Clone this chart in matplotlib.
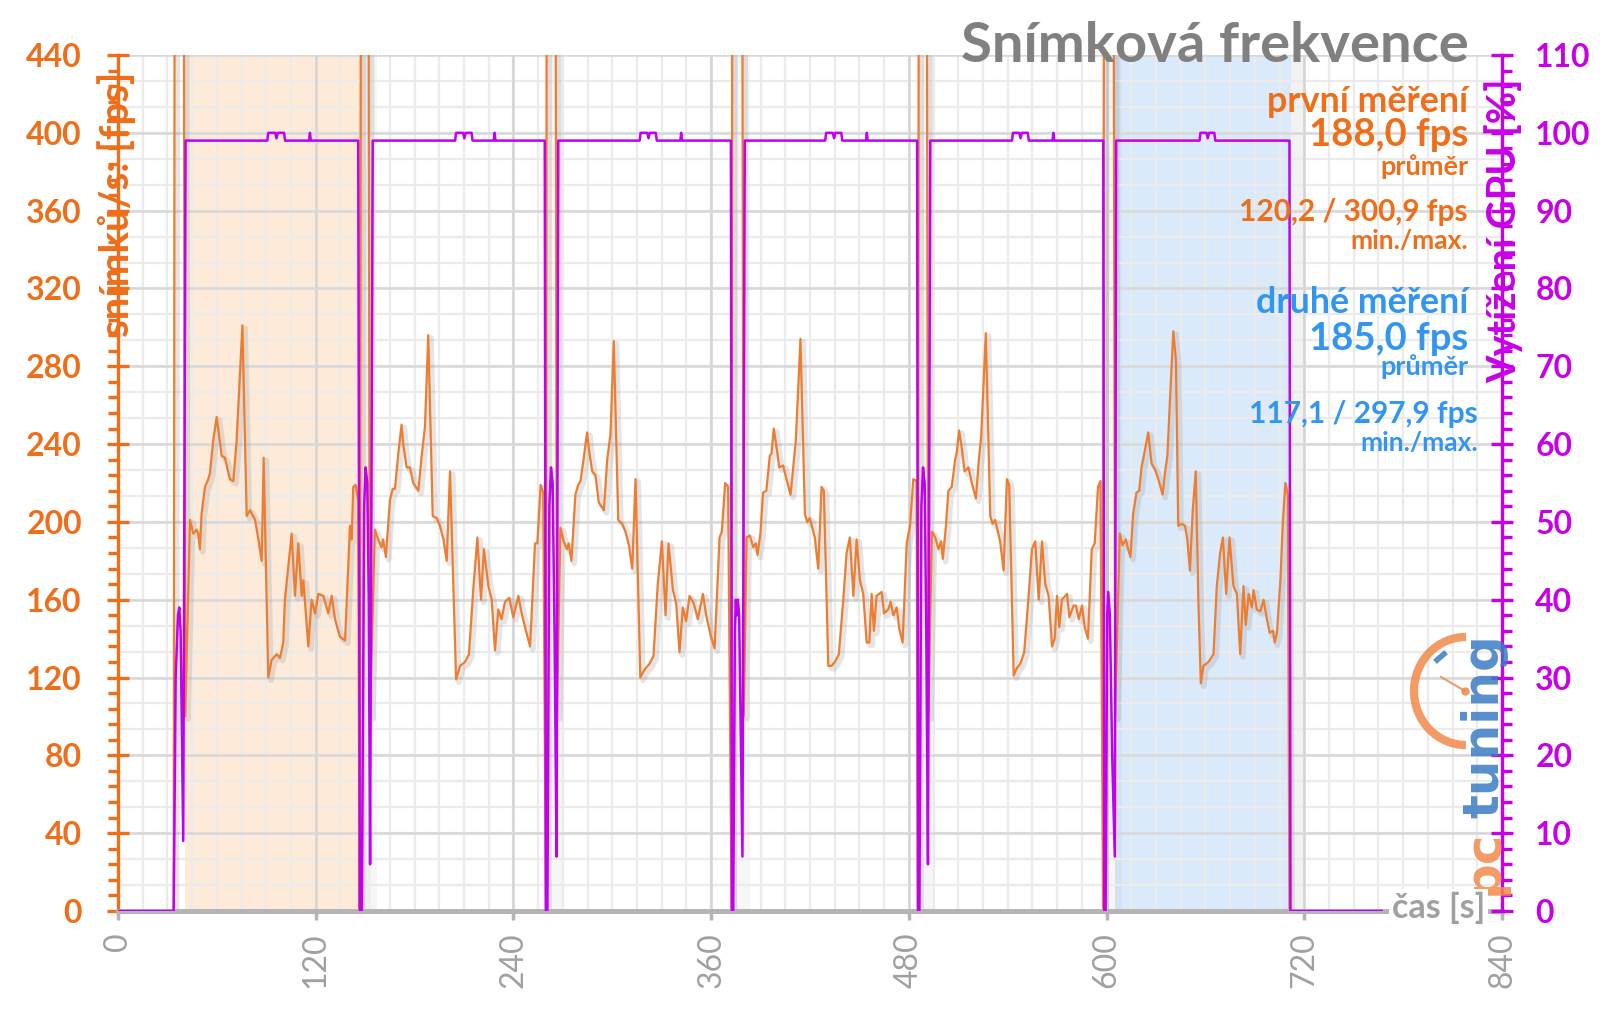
import numpy as np
import matplotlib
matplotlib.use("Agg")
import matplotlib.pyplot as plt
import matplotlib.patheffects as pe
from matplotlib.ticker import MultipleLocator
from matplotlib.patches import Arc

plt.rcParams['font.family'] = ['Lato', 'DejaVu Sans']
plt.rcParams['font.weight'] = 'bold'

# ---------------- data ----------------
x_ticks = [0, 120, 240, 360, 480, 600, 720, 840]
fps_ticks = [0, 40, 80, 120, 160, 200, 240, 280, 320, 360, 400, 440]
gpu_ticks = [0, 10, 20, 30, 40, 50, 60, 70, 80, 90, 100, 110]

# loading gaps between runs (fps goes off-scale during loading)
gap0_t = [33.8, 34.6, 39.4, 40.8]
gap0_fps = [0, 700, 700, 100]
gap1_t = [146.6, 147.8, 151.6, 152.9]
gap1_fps = [0, 700, 700, 100]
gap2_t = [259.7, 260.4, 265.2, 266.4]
gap2_fps = [0, 700, 700, 100]
gap3_t = [372.4, 373.0, 378.4, 379.8]
gap3_fps = [0, 700, 700, 100]
gap4_t = [485.5, 486.2, 490.4, 491.8]
gap4_fps = [0, 700, 700, 100]
gap5_t = [597.9, 598.6, 603.8, 605.2]
gap5_fps = [0, 700, 700, 100]
end_t = [711.0]
end_fps = [0]

run1_t = [43.7, 45.7, 47.7, 48.7, 49.7, 50.7, 52.8, 54.8, 55.8, 57.8,
          59.9, 62.9, 64.9, 67.9, 70.0, 72.0, 75.5, 78.1, 80.1, 83.2,
          85.2, 87.2, 88.4, 91.2, 93.2, 96.3, 98.3, 100.3, 101.3, 105.4,
          107.4, 109.4, 111.5, 112.5, 115.5, 117.5, 119.6, 121.6, 124.6, 127.6,
          129.7, 131.7, 134.7, 137.8, 140.8, 141.8, 142.8, 144.2, 145.8]
run1_fps = [201, 194, 196, 194, 186, 204, 218, 222, 225, 242,
            254, 234, 233, 222, 221, 242, 301, 203, 206, 201,
            191, 180, 233, 120, 129, 132, 130, 138, 160, 194,
            162, 189, 162, 170, 136, 160, 153, 163, 162, 153,
            162, 150, 141, 139, 198, 191, 218, 219, 211]

run2_t = [155.9, 157.9, 159.9, 160.9, 162.6, 165.0, 166.7, 168.1, 170.1, 172.1,
          173.1, 175.2, 177.2, 179.2, 182.3, 184.3, 186.3, 188.3, 191.0, 193.4,
          195.4, 197.5, 199.5, 201.5, 205.2, 207.6, 210.6, 213.0, 215.6, 218.1,
          220.3, 222.1, 224.8, 226.8, 228.8, 230.8, 232.8, 234.9, 237.5, 239.9,
          243.0, 245.0, 247.6, 250.1, 253.1, 254.5, 256.5, 258.1]
run2_fps = [196, 191, 187, 191, 182, 211, 217, 217, 235, 250,
            240, 228, 228, 220, 216, 234, 249, 296, 203, 202,
            198, 191, 180, 226, 119, 126, 128, 132, 165, 192,
            160, 186, 167, 160, 134, 155, 150, 159, 161, 151,
            162, 153, 144, 136, 189, 189, 219, 215]

run3_t = [268.5, 270.5, 272.5, 273.5, 275.2, 277.6, 279.3, 280.7, 282.7, 284.7,
          285.7, 287.8, 289.8, 291.8, 294.9, 296.9, 298.9, 300.9, 303.6, 306.0,
          308.0, 310.1, 312.1, 314.1, 317.0, 319.5, 322.5, 325.0, 327.6, 330.1,
          332.3, 334.1, 336.8, 338.8, 340.8, 342.8, 344.8, 346.9, 349.5, 351.9,
          355.0, 357.0, 359.6, 362.1, 365.1, 366.5, 368.5, 370.3]
run3_fps = [197, 190, 186, 189, 180, 214, 219, 221, 233, 246,
            238, 226, 224, 210, 206, 232, 245, 293, 201, 199,
            195, 188, 176, 222, 120, 124, 127, 131, 168, 190,
            152, 189, 165, 158, 133, 156, 149, 162, 158, 150,
            163, 152, 142, 135, 192, 195, 220, 218]

run4_t = [381.5, 383.5, 385.5, 387.1, 388.1, 389.9, 391.5, 393.5, 395.6, 396.6,
          398.0, 399.6, 401.3, 403.7, 405.7, 408.2, 409.8, 411.4, 414.2, 416.9,
          418.3, 419.9, 422.9, 425.0, 427.0, 428.4, 431.1, 433.1, 435.1, 437.5,
          440.2, 442.2, 444.2, 446.3, 448.3, 450.3, 452.3, 454.4, 456.0, 457.4,
          458.8, 460.4, 463.5, 464.9, 467.5, 468.9, 470.6, 472.6, 474.2, 476.2,
          478.7, 480.7, 482.7, 484.7]
run4_fps = [192, 193, 187, 189, 183, 194, 215, 216, 234, 235,
            248, 239, 228, 229, 222, 214, 228, 242, 294, 204,
            200, 202, 192, 176, 218, 216, 126, 126, 128, 132,
            160, 184, 192, 162, 191, 170, 163, 138, 138, 163,
            144, 162, 164, 153, 155, 159, 152, 156, 145, 138,
            189, 198, 222, 221]

run5_t = [494.0, 496.0, 498.0, 499.6, 500.6, 502.4, 504.0, 506.0, 508.1, 509.1,
          510.5, 512.1, 513.8, 516.2, 518.2, 520.7, 522.3, 523.9, 526.7, 529.4,
          530.8, 532.4, 535.4, 537.5, 539.5, 540.9, 543.6, 545.6, 547.6, 550.0,
          552.7, 554.7, 556.7, 558.8, 560.8, 562.8, 564.8, 566.9, 568.5, 569.9,
          571.3, 572.9, 576.0, 577.4, 580.0, 581.4, 583.1, 585.1, 586.7, 588.7,
          591.0, 592.8, 594.8, 596.3]
run5_fps = [195, 192, 186, 190, 181, 197, 216, 218, 232, 236,
            247, 238, 226, 228, 220, 212, 230, 244, 297, 203,
            199, 201, 190, 175, 222, 219, 121, 125, 127, 133,
            162, 186, 190, 160, 190, 168, 162, 136, 140, 162,
            146, 160, 163, 151, 157, 157, 150, 157, 146, 140,
            186, 189, 218, 221]

run6_t = [608.0, 609.7, 611.7, 613.1, 614.5, 616.1, 618.1, 619.8, 621.2, 622.6,
          625.3, 627.3, 629.4, 631.4, 634.0, 635.4, 636.9, 638.5, 640.5, 642.1,
          643.5, 645.5, 647.6, 649.0, 650.6, 652.3, 654.1, 655.7, 657.2, 658.8,
          661.8, 664.9, 666.9, 668.9, 670.6, 672.6, 674.6, 677.0, 679.1, 681.1,
          683.1, 684.5, 686.2, 688.2, 689.2, 691.2, 693.3, 695.3, 697.3, 699.0,
          701.0, 702.0, 703.4, 705.5, 707.0, 708.5, 710.0]
run6_fps = [194, 188, 191, 186, 182, 204, 215, 216, 228, 234,
            246, 230, 227, 222, 214, 225, 234, 263, 298, 283,
            198, 199, 198, 191, 175, 206, 226, 160, 117, 126,
            128, 132, 167, 184, 192, 163, 192, 167, 163, 132,
            167, 147, 163, 156, 165, 155, 154, 160, 150, 143,
            144, 138, 143, 170, 200, 220, 214]

gpu_t = [0, 33.8, 35.0, 36.4, 37.2, 38.0, 39.6, 41.0,
         90.6, 91.2, 95.4, 96.2, 97.0, 100.8, 101.4, 116.0, 116.5, 117.0, 145.8, 146.8,
         148.0, 149.4, 150.3, 151.3, 152.2, 153.0, 154.6,
         204.6, 205.2, 209.4, 210.2, 211.0, 214.6, 215.2, 228.1, 228.6, 229.1, 259.0, 259.7,
         260.6, 261.8, 262.8, 263.8, 265.0, 266.2, 267.2,
         316.6, 317.2, 321.2, 322.0, 322.8, 326.4, 327.0, 341.3, 341.8, 342.3, 372.0, 372.6,
         373.4, 374.4, 375.0, 375.6, 376.2, 377.0, 379.0, 380.4,
         429.2, 429.8, 433.8, 434.6, 435.4, 439.0, 439.6, 454.0, 454.5, 455.0, 485.0, 485.6,
         486.4, 487.6, 488.6, 489.6, 490.6, 491.6, 493.0,
         542.6, 543.2, 547.0, 547.8, 548.6, 552.2, 552.8, 567.2, 567.7, 568.2, 598.0, 598.6,
         599.4, 600.4, 601.0, 602.0, 603.4, 605.0, 605.8,
         656.4, 657.0, 660.6, 661.4, 662.2, 665.4, 666.0, 711.0, 711.6, 767.0]
gpu_v = [0, 0, 30, 38, 39, 36, 9, 99,
         99, 100, 100, 99.3, 100, 100, 99, 99, 100, 99, 99, 0,
         0, 52, 57, 55, 40, 6, 99,
         99, 100, 100, 99.3, 100, 100, 99, 99, 100, 99, 99, 0,
         0, 52, 57, 55, 35, 7, 99,
         99, 100, 100, 99.3, 100, 100, 99, 99, 100, 99, 99, 0,
         0, 36, 40, 38, 40, 38, 7, 99,
         99, 100, 100, 99.3, 100, 100, 99, 99, 100, 99, 99, 0,
         0, 52, 57, 55, 35, 6, 99,
         99, 100, 100, 99.3, 100, 100, 99, 99, 100, 99, 99, 0,
         0, 38, 41, 38, 20, 7, 99,
         99, 100, 100, 99.3, 100, 100, 99, 99, 0, 0]

first_span = (40.5, 148.5)
second_span = (605.0, 712.0)

# ---------------- style ----------------
ORANGE = '#ED7D31'
ORANGE_TXT = '#EE6E1A'
MAGENTA = '#C000F0'
MAGENTA_TXT = '#C800E8'
BLUE_TXT = '#3296F0'
GRAY_TXT = '#A0A0A0'
W, H = 1600, 1009

fig = plt.figure(figsize=(16, 10.09), dpi=100)
fig.patch.set_facecolor('white')
ax = fig.add_axes([118 / W, 1 - 911 / H, (1502 - 118) / W, (911 - 55) / H])
ax.set_facecolor('white')
ax.set_xlim(0, 840)
ax.set_ylim(0, 440)

# grid (minor then major)
for gx in np.arange(0, 841, 15):
    ax.axvline(gx, color='#EBEBEB', lw=1.6, zorder=0.4)
for gy in np.arange(0, 441, 40 / 3):
    ax.axhline(gy, color='#EBEBEB', lw=1.6, zorder=0.4)
for gx in x_ticks:
    ax.axvline(gx, color='#D4D4D4', lw=1.8, zorder=0.45)
for gy in fps_ticks:
    ax.axhline(gy, color='#D8D8D8', lw=1.8, zorder=0.45)

# shaded measurement windows
ax.axvspan(*first_span, color='#FDE8D4', alpha=0.9, lw=0, zorder=0.3)
ax.axvspan(*second_span, color='#D8E8FA', alpha=0.9, lw=0, zorder=0.3)
ax.axvspan(second_span[1], second_span[1] + 7, color='#000000', alpha=0.05, lw=0, zorder=0.3)
ax.axvspan(first_span[1], first_span[1] + 5, color='#000000', alpha=0.03, lw=0, zorder=0.3)
for g in (gap1_t, gap2_t, gap3_t, gap4_t, gap5_t):
    ax.axvspan(g[0] - 1, g[-1] + 4, color='#000000', alpha=0.035, lw=0, zorder=0.3)

fps_t = np.concatenate([gap0_t, run1_t, gap1_t, run2_t, gap2_t, run3_t, gap3_t,
                        run4_t, gap4_t, run5_t, gap5_t, run6_t, end_t])
fps_v = np.concatenate([gap0_fps, run1_fps, gap1_fps, run2_fps, gap2_fps, run3_fps, gap3_fps,
                        run4_fps, gap4_fps, run5_fps, gap5_fps, run6_fps, end_fps])
ax.plot(fps_t, fps_v, color=ORANGE, lw=1.6, zorder=3,
        path_effects=[pe.SimpleLineShadow(offset=(2, -2), shadow_color='#999999', alpha=0.25, linewidth=4),
                      pe.Normal()])

# axes styling
for s in ('top', 'right'):
    ax.spines[s].set_visible(False)
ax.spines['left'].set_color(ORANGE_TXT)
ax.spines['left'].set_linewidth(2.4)
ax.spines['bottom'].set_color('#B4B4B4')
ax.spines['bottom'].set_linewidth(3.6)
ax.spines['bottom'].set_zorder(4)

ax.set_xticks(x_ticks)
ax.set_xticklabels([str(v) for v in x_ticks], rotation=90, color=GRAY_TXT,
                   fontsize=23, fontweight='normal')
ax.tick_params(axis='x', direction='out', length=6.5, width=2.5, color='#B4B4B4', pad=9)

ax.set_yticks(fps_ticks)
ax.set_yticklabels([str(v) for v in fps_ticks])
ax.yaxis.set_minor_locator(MultipleLocator(8))
ax.tick_params(axis='y', which='major', direction='inout', length=16, width=2.4,
               color=ORANGE_TXT, labelcolor=ORANGE_TXT, labelsize=23, pad=18)
ax.tick_params(axis='y', which='minor', direction='out', length=7, width=2.4, color=ORANGE_TXT)

ax2 = ax.twinx()
ax2.set_ylim(0, 110)
ax2.plot(gpu_t, gpu_v, color=MAGENTA, lw=1.8, zorder=3)
for s in ('top', 'left', 'bottom'):
    ax2.spines[s].set_visible(False)
ax2.spines['right'].set_color(MAGENTA_TXT)
ax2.spines['right'].set_linewidth(2.4)
ax2.set_yticks(gpu_ticks)
ax2.set_yticklabels([str(v) for v in gpu_ticks])
ax2.yaxis.set_minor_locator(MultipleLocator(2))
ax2.tick_params(axis='y', which='major', direction='inout', length=16, width=2.4,
                color=MAGENTA_TXT, labelcolor=MAGENTA_TXT, labelsize=23, pad=16)
ax2.tick_params(axis='y', which='minor', direction='out', length=7, width=2.4, color=MAGENTA_TXT)


def fx(px):
    return px / W


def fy(py):
    return 1 - py / H


# axis titles
fig.text(fx(129), fy(72), 'snímků/s: [fps]', rotation=90, rotation_mode='anchor',
         ha='right', va='baseline', color=ORANGE_TXT, fontsize=29, fontweight='bold', zorder=10)
fig.text(fx(1516), fy(78), 'Vytížení GPU [%]', rotation=90, rotation_mode='anchor',
         ha='right', va='baseline', color=MAGENTA_TXT, fontsize=28.5, fontweight='bold', zorder=10)
fig.text(fx(1485), fy(908), 'čas [s]', ha='right', va='center', color=GRAY_TXT,
         fontsize=24.5, fontweight='bold', zorder=10,
         bbox=dict(facecolor='white', edgecolor='none', pad=2))

# title and annotations
fig.text(fx(1469), fy(46), 'Snímková frekvence', ha='right', va='center',
         color='#808080', fontsize=40.5, fontweight='bold')
ann = [
    ('první měření', 101, 25.8, ORANGE_TXT, 1468),
    ('188,0 fps', 135, 27.5, ORANGE_TXT, 1468),
    ('průměr', 167, 19.5, ORANGE_TXT, 1468),
    ('120,2 / 300,9 fps', 212, 21.5, ORANGE_TXT, 1468),
    ('min./max.', 241, 19, ORANGE_TXT, 1468),
    ('druhé měření', 302, 25.8, BLUE_TXT, 1468),
    ('185,0 fps', 339, 27.5, BLUE_TXT, 1468),
    ('průměr', 367, 19.5, BLUE_TXT, 1468),
    ('117,1 / 297,9 fps', 414, 21.5, BLUE_TXT, 1478),
    ('min./max.', 443, 19, BLUE_TXT, 1478),
]
for txt, py, size, col, px in ann:
    fig.text(fx(px), fy(py), txt, ha='right', va='center', color=col,
             fontsize=size, fontweight='bold', zorder=10)

# logo watermark
ov = fig.add_axes([0, 0, 1, 1], facecolor='none')
ov.set_xlim(0, W)
ov.set_ylim(H, 0)
ov.axis('off')
ov.add_patch(Arc((1466, 691), 104, 108, theta1=90, theta2=270, lw=6, color='#F28A4C', alpha=0.85))
ov.plot([1441, 1465], [677, 691], color='#F28A4C', lw=1.5, alpha=0.85)
ov.plot([1465], [691], 'o', color='#F28A4C', ms=5, alpha=0.85)
ov.plot([1437, 1444], [660, 654], color='#3A7CC4', lw=4, alpha=0.85)
ov.text(1498, 818, 'tuning', rotation=90, rotation_mode='anchor', ha='left', va='baseline',
        color='#3A7CC4', fontsize=36, fontweight='bold', family='DejaVu Sans', alpha=0.85)
ov.text(1498, 895, 'pc', rotation=90, rotation_mode='anchor', ha='left', va='baseline',
        color='#F28A4C', fontsize=36, fontweight='bold', family='DejaVu Sans', alpha=0.85)

fig.savefig('out.png', dpi=100)
